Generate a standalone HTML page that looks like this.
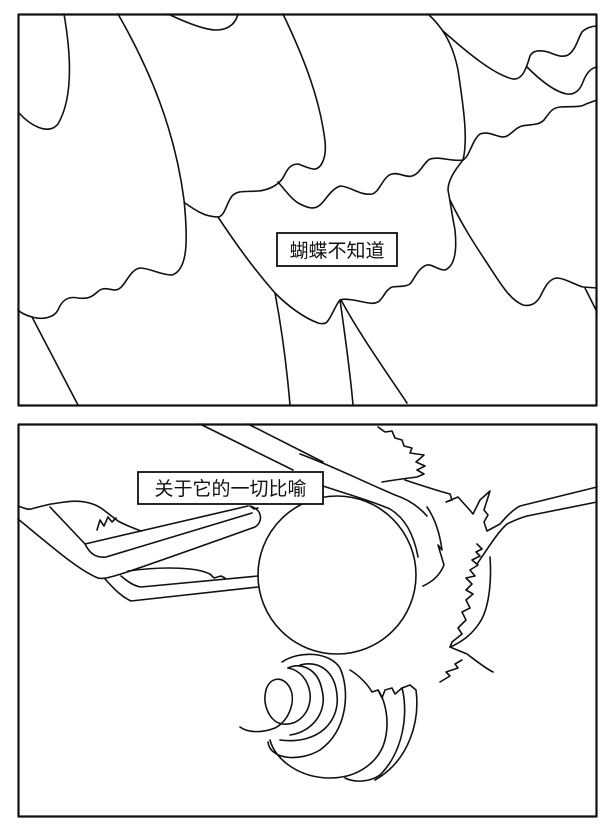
<!DOCTYPE html>
<html><head><meta charset="utf-8"><style>
html,body{margin:0;padding:0;background:#fff;width:614px;height:831px;overflow:hidden}
svg{display:block}
text{font-family:"Liberation Sans","Noto Sans CJK SC",sans-serif;font-size:19px;fill:#111}
</style></head><body>
<svg width="614" height="831" viewBox="0 0 614 831" xmlns="http://www.w3.org/2000/svg">
<g fill="none" stroke="#111" stroke-width="1.6" stroke-linejoin="round" stroke-linecap="round">
<rect x="18.5" y="14.5" width="578" height="391" stroke-width="2.2"/>
<!-- panel 1 -->
<path d="M64 14 C72 60 72 100 58 124 C48 136 30 125 19 113"/>
<path d="M168 14 C185 22 205 30 216 30 C230 30 236 22 238 14"/>
<path d="M118 14 C150 70 175 130 184 200 C188 240 188 270 172 275 C160 275 150 268 140 268 C128 270 125 290 115 290 C110 290 105 287 100 290 C95 293 92 300 78 298 C68 296 62 300 58 310 C54 318 42 320 32 317 C25 315 20 312 18 310"/>
<path d="M32 317 L78 405"/>
<path d="M283 14 C305 60 320 100 325 141 C327 160 320 170 313 169 C308 168 304 166 298 164 C290 164 287 170 284 176 C280 184 270 190 258 191 C245 192 238 190 232 196 C226 204 225 216 218 217 C205 217 195 210 185 203"/>
<path d="M278 182 C285 190 292 200 300 204 C308 208 314 210 320 205 C326 200 330 190 340 186 C350 186 360 196 372 194 C380 192 383 176 392 174 C400 172 405 178 412 176 C420 174 424 162 430 159 C440 156 452 162 463 160 C470 156 472 140 480 134 C490 130 500 140 507 136 C514 132 515 128 522 126 C530 124 538 126 544 120 C550 112 552 108 560 107 C570 106 580 108 586 104 L597 100"/>
<path d="M428 14 C440 25 452 40 458 70 C464 110 468 140 463 160"/>
<path d="M443 31 C470 55 495 75 513 79 C522 80 526 70 530 56 C533 50 540 50 548 52 C556 55 562 58 568 55 C576 50 578 38 582 32 C586 28 592 26 597 26"/>
<path d="M527 67 C540 80 555 92 567 94 C575 95 580 90 583 82 C586 74 590 68 597 67"/>
<path d="M218 217 C240 250 255 270 275 293 C290 308 305 318 318 323 C322 324 325 324 327 322 C332 316 335 306 340 300 C345 298 350 300 353 300 C365 302 372 305 378 302 C384 298 385 290 392 287 C400 286 405 287 410 284 C415 278 418 268 427 265 C433 264 437 270 445 270 C455 266 457 250 455 230 C452 215 450 200 448 190 C448 180 455 170 463 160"/>
<path d="M275 293 C282 330 287 370 290 405"/>
<path d="M340 300 C345 335 350 370 353 405"/>
<path d="M341 300 C360 335 385 370 407 403"/>
<path d="M450 200 C462 225 475 245 487 263 C500 283 510 300 523 305 C532 307 537 302 540 297 C545 287 548 280 556 278 C565 278 575 285 583 287 L597 288"/>
<path d="M585 288 L597 312"/>
<!-- panel 2 -->
<rect x="18.5" y="424.5" width="578" height="392" stroke-width="2.2"/>
<path d="M200 424 L293 470"/>
<path d="M248 424 L323 462"/>
<path d="M18 506 C24 508 28 510 31 509 C38 507 42 506 51 504 C65 502 75 500 85 502 C95 504 100 507 105 511 C110 515 114 518 118 521 C125 525 133 528 141 531"/>
<path d="M97 530 L100 520 L104 526 L108 517 L112 522 L116 518"/>
<path d="M50 507 L85 544 L248 506"/>
<path d="M85 544 C90 554 96 558 106 557 L252 513"/>
<path d="M18 519 C50 545 78 570 98 578 C106 580 112 578 255 527 C263 522 263 510 250 506 L254 509 L258 508"/>
<path d="M105 579 C115 590 122 597 131 601 L258 587"/>
<path d="M121 576 C128 582 134 586 141 587 L258 576"/>
<path d="M128 571 C150 568 170 567 190 569 C200 570 205 572 210 574 L214 578 L221 576 L225 578"/>
<circle cx="337" cy="575" r="79"/>
<path d="M323 486 C350 495 372 501 390 509 C405 518 414 535 418 557"/>
<path d="M300 454 C330 465 360 480 395 495 C410 500 420 508 427 516"/>
<path d="M427 507 C436 520 440 535 442 550 L438 545 L444 565 C440 575 432 582 423 586"/>
<path d="M378 427 L385 432 L392 431 L395 438 L402 440 L404 446 L412 448 L410 453 L424 455 L416 462 L425 466 L417 470 L424 474 L417 477 C410 478 400 479 382 482"/>
<path d="M405 480 C420 485 435 490 450 494 L452 500 L446 502 L458 497 C465 505 470 510 473 514 L480 500 L490 491 L484 510 L488 515 L484 522 L487 531 L500 524 C505 518 512 510 520 506 L597 487"/>
<path d="M477 564 C490 545 498 532 507 524 C515 520 520 518 527 516 L597 502"/>
<path d="M477 544 L482 549 L476 552 L480 556 L472 560 L478 565 L470 570 L475 576 L466 578 L472 584 L466 590 L473 594 L466 600 L470 608 L462 612 L466 620 L458 628 L462 634 L452 642 L450 647 L467 654 C475 660 485 668 493 672"/>
<path d="M490 557 C492 585 488 610 480 622 C472 635 460 643 450 647"/>
<path d="M440 682 L450 676 L446 672 L458 668 L455 664 L462 660"/>
<!-- spiral -->
<path d="M240 727 C248 733 262 733 275 728 C290 720 296 700 290 688 C284 676 270 676 266 690 C262 705 270 722 282 724 C300 726 312 710 310 693 C308 680 300 670 288 668"/>
<path d="M288 668 C300 662 318 668 322 690 C328 712 312 732 290 735"/>
<path d="M300 665 C320 660 335 672 337 695 C340 720 320 745 280 740"/>
<path d="M282 662 C300 650 330 652 340 668 C350 690 348 730 320 750 C300 762 270 760 268 742"/>
<path d="M270 740 C275 760 300 778 330 778 C360 778 380 760 385 740 C390 720 385 700 378 690 L372 692 C368 685 360 676 350 670"/>
<path d="M378 690 L382 698 L385 690 L392 688 L395 694 L402 688 C408 710 405 750 380 775 C370 782 355 783 345 778"/>
<path d="M402 688 L410 685 L416 690 C420 720 410 760 375 780"/>
</g>
<rect x="277" y="233" width="120" height="33" fill="#fff" stroke="#111" stroke-width="1.8"/>
<text x="337" y="257" text-anchor="middle">蝴蝶不知道</text>
<rect x="138" y="472" width="185" height="32" fill="#fff" stroke="#111" stroke-width="1.8"/>
<text x="230.5" y="495" text-anchor="middle">关于它的一切比喻</text>
</svg>
</body></html>
